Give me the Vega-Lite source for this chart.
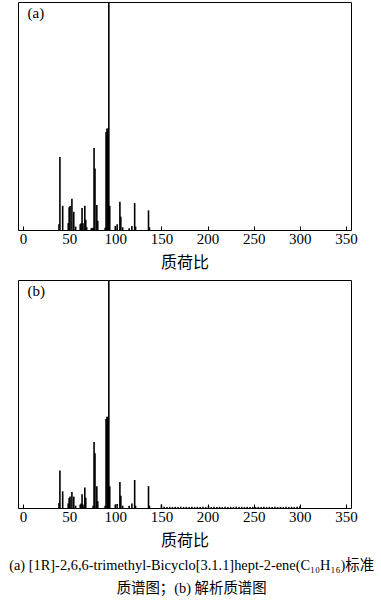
{
  "$schema": "https://vega.github.io/schema/vega-lite/v6.json",
  "padding": {"left": 9, "top": 1, "right": 5, "bottom": 5},
  "background": "white",
  "config": {
    "view": {"stroke": "black", "strokeWidth": 1},
    "axis": {"grid": false}
  },
  "datasets": {
    "spec": [
      {"panel": "a", "mz": 39, "intensity": 2.5},
      {"panel": "a", "mz": 40, "intensity": 32},
      {"panel": "a", "mz": 43, "intensity": 10.6},
      {"panel": "a", "mz": 49, "intensity": 3},
      {"panel": "a", "mz": 50, "intensity": 10},
      {"panel": "a", "mz": 51, "intensity": 10.5},
      {"panel": "a", "mz": 53, "intensity": 13.7},
      {"panel": "a", "mz": 55, "intensity": 8},
      {"panel": "a", "mz": 57, "intensity": 1.5},
      {"panel": "a", "mz": 62, "intensity": 2.5},
      {"panel": "a", "mz": 63, "intensity": 3},
      {"panel": "a", "mz": 64, "intensity": 9.6},
      {"panel": "a", "mz": 65, "intensity": 3},
      {"panel": "a", "mz": 67, "intensity": 10.6},
      {"panel": "a", "mz": 68, "intensity": 4.5},
      {"panel": "a", "mz": 69, "intensity": 1.2},
      {"panel": "a", "mz": 74, "intensity": 0.8},
      {"panel": "a", "mz": 75, "intensity": 0.8},
      {"panel": "a", "mz": 76, "intensity": 1},
      {"panel": "a", "mz": 77, "intensity": 36},
      {"panel": "a", "mz": 78, "intensity": 27},
      {"panel": "a", "mz": 80, "intensity": 11},
      {"panel": "a", "mz": 81, "intensity": 4},
      {"panel": "a", "mz": 89, "intensity": 1},
      {"panel": "a", "mz": 90, "intensity": 43},
      {"panel": "a", "mz": 91, "intensity": 44.5},
      {"panel": "a", "mz": 92, "intensity": 44.5},
      {"panel": "a", "mz": 93, "intensity": 100},
      {"panel": "a", "mz": 94, "intensity": 10.6},
      {"panel": "a", "mz": 100, "intensity": 1.8},
      {"panel": "a", "mz": 102, "intensity": 2.5},
      {"panel": "a", "mz": 105, "intensity": 12.4},
      {"panel": "a", "mz": 106, "intensity": 5.8},
      {"panel": "a", "mz": 108, "intensity": 1.2},
      {"panel": "a", "mz": 115, "intensity": 0.8},
      {"panel": "a", "mz": 118, "intensity": 1.8},
      {"panel": "a", "mz": 121, "intensity": 11.8},
      {"panel": "a", "mz": 122, "intensity": 1.5},
      {"panel": "a", "mz": 136, "intensity": 8.6},
      {"panel": "a", "mz": 137, "intensity": 1.2},
      {"panel": "b", "mz": 39, "intensity": 2.2},
      {"panel": "b", "mz": 40, "intensity": 16.4},
      {"panel": "b", "mz": 43, "intensity": 7.3},
      {"panel": "b", "mz": 49, "intensity": 2},
      {"panel": "b", "mz": 50, "intensity": 4.4},
      {"panel": "b", "mz": 51, "intensity": 5},
      {"panel": "b", "mz": 53, "intensity": 7},
      {"panel": "b", "mz": 55, "intensity": 5},
      {"panel": "b", "mz": 57, "intensity": 1},
      {"panel": "b", "mz": 62, "intensity": 1.5},
      {"panel": "b", "mz": 63, "intensity": 2},
      {"panel": "b", "mz": 64, "intensity": 6},
      {"panel": "b", "mz": 65, "intensity": 1.5},
      {"panel": "b", "mz": 67, "intensity": 9},
      {"panel": "b", "mz": 68, "intensity": 4.5},
      {"panel": "b", "mz": 76, "intensity": 1},
      {"panel": "b", "mz": 77, "intensity": 29},
      {"panel": "b", "mz": 78, "intensity": 24},
      {"panel": "b", "mz": 80, "intensity": 9.5},
      {"panel": "b", "mz": 81, "intensity": 3},
      {"panel": "b", "mz": 89, "intensity": 1},
      {"panel": "b", "mz": 90, "intensity": 39},
      {"panel": "b", "mz": 91, "intensity": 40},
      {"panel": "b", "mz": 92, "intensity": 40},
      {"panel": "b", "mz": 93, "intensity": 100},
      {"panel": "b", "mz": 94, "intensity": 9.5},
      {"panel": "b", "mz": 100, "intensity": 1.5},
      {"panel": "b", "mz": 102, "intensity": 1.8},
      {"panel": "b", "mz": 105, "intensity": 11.4},
      {"panel": "b", "mz": 106, "intensity": 5.4},
      {"panel": "b", "mz": 108, "intensity": 1},
      {"panel": "b", "mz": 115, "intensity": 1},
      {"panel": "b", "mz": 118, "intensity": 2},
      {"panel": "b", "mz": 121, "intensity": 12.3},
      {"panel": "b", "mz": 122, "intensity": 1},
      {"panel": "b", "mz": 136, "intensity": 9.6},
      {"panel": "b", "mz": 137, "intensity": 1},
      {"panel": "b", "mz": 150, "intensity": 1.5},
      {"panel": "b", "mz": 153, "intensity": 0.5},
      {"panel": "b", "mz": 156, "intensity": 0.4},
      {"panel": "b", "mz": 159, "intensity": 0.5},
      {"panel": "b", "mz": 162, "intensity": 0.4},
      {"panel": "b", "mz": 165, "intensity": 0.5},
      {"panel": "b", "mz": 168, "intensity": 0.4},
      {"panel": "b", "mz": 171, "intensity": 0.5},
      {"panel": "b", "mz": 174, "intensity": 0.4},
      {"panel": "b", "mz": 177, "intensity": 0.5},
      {"panel": "b", "mz": 180, "intensity": 0.4},
      {"panel": "b", "mz": 183, "intensity": 0.5},
      {"panel": "b", "mz": 186, "intensity": 0.4},
      {"panel": "b", "mz": 189, "intensity": 0.5},
      {"panel": "b", "mz": 192, "intensity": 0.4},
      {"panel": "b", "mz": 195, "intensity": 0.5},
      {"panel": "b", "mz": 198, "intensity": 0.4},
      {"panel": "b", "mz": 201, "intensity": 0.8},
      {"panel": "b", "mz": 204, "intensity": 0.4},
      {"panel": "b", "mz": 207, "intensity": 0.5},
      {"panel": "b", "mz": 210, "intensity": 0.4},
      {"panel": "b", "mz": 213, "intensity": 0.5},
      {"panel": "b", "mz": 216, "intensity": 0.4},
      {"panel": "b", "mz": 219, "intensity": 0.5},
      {"panel": "b", "mz": 222, "intensity": 0.4},
      {"panel": "b", "mz": 225, "intensity": 0.5},
      {"panel": "b", "mz": 228, "intensity": 0.4},
      {"panel": "b", "mz": 231, "intensity": 0.5},
      {"panel": "b", "mz": 234, "intensity": 0.4},
      {"panel": "b", "mz": 237, "intensity": 0.5},
      {"panel": "b", "mz": 240, "intensity": 0.4},
      {"panel": "b", "mz": 243, "intensity": 0.5},
      {"panel": "b", "mz": 246, "intensity": 0.4},
      {"panel": "b", "mz": 249, "intensity": 0.5},
      {"panel": "b", "mz": 252, "intensity": 0.4},
      {"panel": "b", "mz": 255, "intensity": 0.5},
      {"panel": "b", "mz": 258, "intensity": 0.4},
      {"panel": "b", "mz": 261, "intensity": 0.5},
      {"panel": "b", "mz": 264, "intensity": 0.4},
      {"panel": "b", "mz": 267, "intensity": 0.5},
      {"panel": "b", "mz": 270, "intensity": 0.4},
      {"panel": "b", "mz": 273, "intensity": 0.5},
      {"panel": "b", "mz": 276, "intensity": 0.4},
      {"panel": "b", "mz": 279, "intensity": 0.5},
      {"panel": "b", "mz": 282, "intensity": 0.4},
      {"panel": "b", "mz": 285, "intensity": 0.5},
      {"panel": "b", "mz": 288, "intensity": 0.4},
      {"panel": "b", "mz": 291, "intensity": 0.5},
      {"panel": "b", "mz": 294, "intensity": 0.4},
      {"panel": "b", "mz": 297, "intensity": 0.5},
      {"panel": "b", "mz": 300, "intensity": 0.8}
    ]
  },
  "title": {
    "text": ["(a) [1R]-2,6,6-trimethyl-Bicyclo[3.1.1]hept-2-ene(C₁₀H₁₆)标准", "质谱图；(b) 解析质谱图"],
    "orient": "bottom",
    "anchor": "middle",
    "font": "Liberation Serif, Noto Sans CJK SC",
    "fontSize": 14.4,
    "fontWeight": "normal",
    "color": "black",
    "lineHeight": 23.5,
    "offset": 10,
    "dx": 4
  },
  "spacing": 8,
  "vconcat": [
    {
      "width": 333,
      "height": 228,
      "layer": [
        {
          "data": {"name": "spec"},
          "transform": [{"filter": "datum.panel === 'a'"}],
          "mark": {"type": "bar", "size": 1.6, "color": "black"},
          "encoding": {
            "x": {"field": "mz", "type": "quantitative", "scale": {"domain": [0, 350], "nice": false},
                  "axis": {"title": "质荷比", "values": [0, 50, 100, 150, 200, 250, 300, 350], "domain": false, "tickSize": -4, "tickColor": "black", "labelFont": "Liberation Serif", "labelFontSize": 15, "labelColor": "black", "labelPadding": 5, "titleFont": "Noto Sans CJK SC", "titleFontSize": 16, "titleFontWeight": "normal", "titleColor": "black", "titlePadding": 8}},
            "y": {"field": "intensity", "type": "quantitative", "scale": {"domain": [0, 100], "nice": false}, "axis": null}
          }
        },
        {
          "data": {"values": [{"label": "(a)"}]},
          "mark": {"type": "text", "align": "left", "baseline": "middle", "font": "Liberation Serif", "fontSize": 15, "fontWeight": "normal", "color": "black"},
          "encoding": {
            "x": {"datum": 5, "type": "quantitative"},
            "y": {"datum": 95, "type": "quantitative"},
            "text": {"field": "label"}
          }
        }
      ]
    },
    {
      "width": 333,
      "height": 228,
      "layer": [
        {
          "data": {"name": "spec"},
          "transform": [{"filter": "datum.panel === 'b'"}],
          "mark": {"type": "bar", "size": 1.6, "color": "black"},
          "encoding": {
            "x": {"field": "mz", "type": "quantitative", "scale": {"domain": [0, 350], "nice": false},
                  "axis": {"title": "质荷比", "values": [0, 50, 100, 150, 200, 250, 300, 350], "domain": false, "tickSize": -4, "tickColor": "black", "labelFont": "Liberation Serif", "labelFontSize": 15, "labelColor": "black", "labelPadding": 5, "titleFont": "Noto Sans CJK SC", "titleFontSize": 16, "titleFontWeight": "normal", "titleColor": "black", "titlePadding": 8}},
            "y": {"field": "intensity", "type": "quantitative", "scale": {"domain": [0, 100], "nice": false}, "axis": null}
          }
        },
        {
          "data": {"values": [{"label": "(b)"}]},
          "mark": {"type": "text", "align": "left", "baseline": "middle", "font": "Liberation Serif", "fontSize": 15, "fontWeight": "normal", "color": "black"},
          "encoding": {
            "x": {"datum": 5, "type": "quantitative"},
            "y": {"datum": 95, "type": "quantitative"},
            "text": {"field": "label"}
          }
        }
      ]
    }
  ]
}
